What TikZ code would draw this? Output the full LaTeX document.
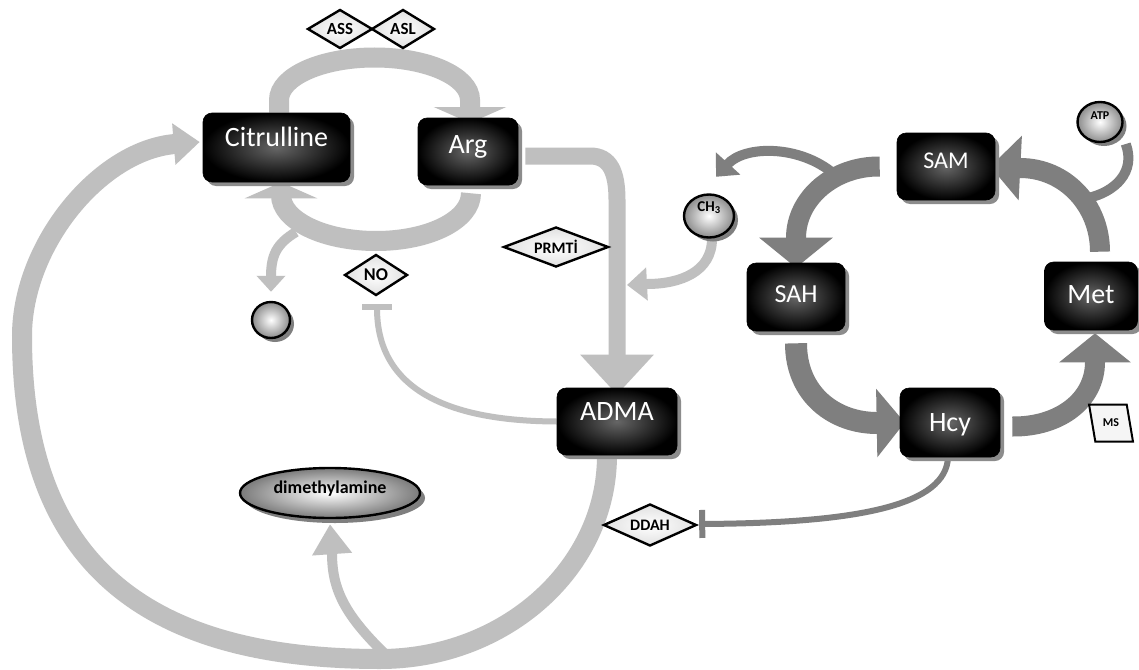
\documentclass[tikz,border=0pt]{standalone}
\usepackage{fontspec}
\setmainfont{Carlito}
\usetikzlibrary{arrows.meta,shapes.geometric,shadows}
\definecolor{lg}{RGB}{191,191,191}
\definecolor{dg}{RGB}{127,127,127}
\definecolor{sh}{RGB}{140,140,140}
\pgfdeclarelayer{conn}
\pgfsetlayers{conn,main}
\tikzset{
  box/.style={rectangle, rounded corners=9pt, draw=black, line width=0.6pt,
    inner color=black!60, outer color=black, text=white, text height=18pt, text depth=0pt,
    drop shadow={shadow xshift=4pt, shadow yshift=-4pt, fill=sh, opacity=1}},
  lbl/.style={diamond, draw=black, line width=2.4pt, inner sep=0pt,
    inner color=white, outer color=black!12},
  ballnode/.style={ellipse, draw=black, line width=2.4pt, inner sep=0pt,
    inner color=white, outer color=black!45, text height=0pt, text depth=0pt,
    drop shadow={shadow xshift=4pt, shadow yshift=-4pt, fill=dg, opacity=1}},
  lgc/.style={draw=lg, line width=#1},
  dgc/.style={draw=dg, line width=#1},
  big/.style={font=\fontsize{28}{32}\selectfont},
}
\begin{document}
\begin{tikzpicture}[x=1pt,y=-1pt]
\useasboundingbox (0,0) rectangle (1139,669);
% nodes
\node[box, big, minimum width=147pt, minimum height=69pt] (cit) at (276.5,147.5) {\raisebox{10pt}{Citrulline}};
\node[box, big, minimum width=100pt, minimum height=67pt] (arg) at (468,151.5) {\raisebox{7.5pt}{Arg}};
\node[box, big, minimum width=120pt, minimum height=67pt] (adma) at (617,421.5) {\raisebox{10pt}{ADMA}};
\node[box, font=\fontsize{24}{28}\selectfont, minimum width=98pt, minimum height=67pt] (sam) at (946,166.5) {\raisebox{7pt}{SAM}};
\node[box, font=\fontsize{26}{30}\selectfont, minimum width=98pt, minimum height=68pt] (sah) at (796,297) {\raisebox{3.5pt}{SAH}};
\node[box, big, minimum width=93pt, minimum height=68pt] (met) at (1091,296) {\raisebox{2pt}{Met}};
\node[box, big, minimum width=100pt, minimum height=69pt] (hcy) at (950,422.5) {Hcy};

\node[lbl, aspect=1.67, minimum width=65pt, minimum height=39pt, font=\bfseries\fontsize{17}{18}\selectfont] (ass) at (340,29) {ASS};
\node[lbl, aspect=1.62, minimum width=63pt, minimum height=39pt, font=\bfseries\fontsize{17}{18}\selectfont] (asl) at (403,29) {ASL};
\node[lbl, aspect=1.54, minimum width=63pt, minimum height=41pt, font=\bfseries\fontsize{18}{19}\selectfont] (no) at (376,275) {NO};
\node[lbl, aspect=2.6, minimum width=105pt, minimum height=40pt, font=\bfseries\fontsize{16}{17}\selectfont] (prmt) at (556,247) {PRMTİ};
\node[lbl, aspect=2.2, minimum width=93pt, minimum height=42pt, font=\bfseries\fontsize{16}{17}\selectfont] (ddah) at (650,525) {DDAH};

\node[ballnode, minimum width=38pt, minimum height=36pt] (ball) at (271,320) {};
\node[ballnode, minimum width=50pt, minimum height=43pt, font=\bfseries\fontsize{15}{16}\selectfont] (ch3) at (709,216) {\raisebox{5pt}{CH\textsubscript{3}}};
\node[ballnode, minimum width=45pt, minimum height=40pt, font=\bfseries\fontsize{12}{13}\selectfont] (atp) at (1100,122) {\raisebox{3pt}{ATP}};
\node[ballnode, minimum width=180pt, minimum height=50pt, outer color=black!52, font=\bfseries\fontsize{18}{20}\selectfont,
  drop shadow={shadow xshift=5pt, shadow yshift=-5pt, fill=dg, opacity=1}] (dma) at (330,493) {dimethylamine};

\node[trapezium, trapezium left angle=110, trapezium right angle=70, trapezium stretches=true,
  draw=black, line width=2pt, fill=black!4, minimum height=37pt, minimum width=44pt, inner sep=1pt,
  font=\bfseries\fontsize{12}{13}\selectfont] (ms) at (1111,423) {MS};

% free ends
\coordinate (brA) at (296,232);
\coordinate (ch3end) at (627,285);
\coordinate (samsplit) at (834,174);
\coordinate (atpjoin) at (1088,198);
\coordinate (dmasplit) at (386,655);

\begin{pgfonlayer}{conn}
\fill[white] (0,0) rectangle (1139,669);
% citrulline cycle
\draw[lgc=20pt, -{Triangle[length=16pt,width=72pt]}] ([xshift=2.5pt]cit.north) -- (279,100)
  .. controls (279,76.5) and (321.8,57.5) .. (374.5,57.5)
  .. controls (427.2,57.5) and (470,76.5) .. (470,100) -- (470,123);
\draw[lgc=10pt, -{Triangle[length=16pt,width=28pt]}] (brA) .. controls (276,244) and (271,256) .. (271,277) -- ([yshift=9pt]ball.north);
\draw[lgc=20pt, -{Triangle[length=16pt,width=72pt]}] ([xshift=3pt,yshift=-8pt]arg.south)
  .. controls (471,220.4) and (428.4,241) .. (376,241)
  .. controls (323.6,241) and (281,220.4) .. (281,195) -- ([xshift=4.5pt]cit.south);
% NO inhibition
\draw[lgc=6pt, -{Bar[width=30pt]}] (adma.west) .. controls (440,421) and (377,385) .. ([xshift=1pt,yshift=-7pt]no.south);
% Arg -> ADMA
\draw[lgc=17pt, -{Triangle[length=40pt,width=71pt]}] ([xshift=7pt,yshift=-4.5pt]arg.east) -- (590,156)
  .. controls (610,156) and (617,172) .. (617,200) -- ([yshift=-7pt]adma.north);
% CH3 -> line
\draw[lgc=10pt, -{Triangle[length=20pt,width=32pt]}] ([xshift=3pt]ch3.south) .. controls (712,272) and (680,284) .. (647,284) -- (ch3end);
% big loop ADMA -> citrulline
\draw[lgc=10pt, -{Triangle[length=30pt,width=38pt]}] (dmasplit) .. controls (345,615) and (332,590) .. (332,553) -- ([yshift=-5pt]dma.south);
\draw[lgc=20pt, -{Triangle[length=26pt,width=40pt]}] ([xshift=-10pt]adma.south)
  .. controls (607,568) and (505,659) .. (380,659)
  .. controls (137,659) and (22,556) .. (22,336)
  .. controls (22,245) and (100,150) .. ([xshift=-3pt,yshift=5.5pt]cit.west);
% methionine cycle
\draw[dgc=10pt, -{Triangle[length=18pt,width=32pt]}] (samsplit) .. controls (800,145) and (745,145) .. ([xshift=7pt,yshift=16.5pt]ch3.north);
\draw[dgc=10pt] ([xshift=9pt,yshift=-7pt]atp.south east) .. controls (1136,172) and (1115,192) .. (atpjoin);
\draw[dgc=20pt, -{Triangle[length=30pt,width=72pt]}] ([xshift=-17pt]sam.west) .. controls (834,166) and (796,198) .. (796,238) -- ([yshift=-5pt]sah.north);
\draw[dgc=20pt, -{Triangle[length=30pt,width=63pt]}] ([xshift=9pt,yshift=10pt]met.north) .. controls (1100,205) and (1065,168) .. (1020,168) -- ([xshift=-5pt]sam.east);
\draw[dgc=22pt, -{Triangle[length=28pt,width=67pt]}] ([yshift=-12pt]sah.south) .. controls (796,395) and (835,423) .. (877,423) -- ([xshift=5pt]hcy.west);
\draw[dgc=20pt, -{Triangle[length=29pt,width=70pt]}] ([xshift=12pt,yshift=-4pt]hcy.east) .. controls (1060,427) and (1095,400) .. (1095,362) -- ([xshift=4pt,yshift=-3pt]met.south);
\draw[dgc=6pt, -{Bar[width=28pt]}] ([xshift=-2pt]hcy.south) .. controls (946,505) and (860,523) .. ([xshift=1.5pt,yshift=1pt]ddah.east);
\end{pgfonlayer}
\end{tikzpicture}
\end{document}
